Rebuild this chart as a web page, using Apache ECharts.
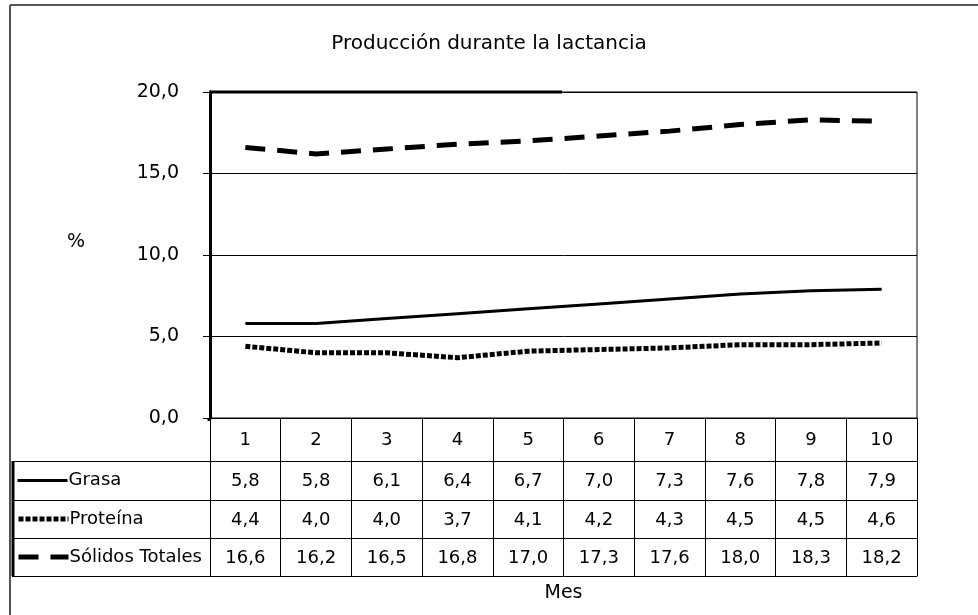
<!DOCTYPE html>
<html>
<head>
<meta charset="utf-8">
<script src="https://cdn.jsdelivr.net/npm/echarts@6/dist/echarts.min.js"></script>
<style>
  html, body { margin: 0; padding: 0; background: #fff; }
  #chart { width: 978px; height: 615px; }
</style>
</head>
<body>
<div id="chart"></div>
<script>
// datos
var meses = ["1", "2", "3", "4", "5", "6", "7", "8", "9", "10"];
var grasa = [5.8, 5.8, 6.1, 6.4, 6.7, 7.0, 7.3, 7.6, 7.8, 7.9];
var proteina = [4.4, 4.0, 4.0, 3.7, 4.1, 4.2, 4.3, 4.5, 4.5, 4.6];
var solidos = [16.6, 16.2, 16.5, 16.8, 17.0, 17.3, 17.6, 18.0, 18.3, 18.2];
var yTicks = [0, 5, 10, 15, 20];

var FONT = "DejaVu Sans, sans-serif";
var coma = function (v) { return v.toFixed(1).replace(".", ","); };

// geometria de la tabla
var gLeft = 210, gRight = 917, gTop = 92, gBottom = 418;
var rows = [418, 461, 500, 538, 576];

function tablaAxis(i, vals) {
  var h = rows[i + 1] - rows[i];
  return {
    type: "category",
    position: "bottom",
    offset: rows[i] - gBottom,
    data: meses,
    axisLine: { show: true, lineStyle: { color: "#000", width: 1 } },
    axisTick: { show: true, interval: 0, length: h, lineStyle: { color: "#000", width: 1 } },
    axisLabel: {
      interval: 0, color: "#000", fontFamily: FONT, fontSize: 18,
      margin: (h - 18) / 2 + 1,
      formatter: function (v, idx) { return vals ? coma(vals[idx]) : v; }
    }
  };
}

var myChart = echarts.init(document.getElementById("chart"));

var xAxes = [
  tablaAxis(0, null),
  tablaAxis(1, grasa),
  tablaAxis(2, proteina),
  tablaAxis(3, solidos),
  {
    type: "category",
    position: "bottom",
    offset: rows[4] - gBottom,
    data: meses,
    name: "Mes",
    nameLocation: "middle",
    nameGap: 8,
    nameTextStyle: { color: "#000", fontFamily: FONT, fontSize: 19 },
    axisLine: { show: true, lineStyle: { color: "#000", width: 1 } },
    axisTick: { show: false },
    axisLabel: { show: false }
  }
];

// marco y columna de leyenda
var graphics = [
  { type: "line", shape: { x1: 10, y1: 5, x2: 978, y2: 5 }, style: { stroke: "#555", lineWidth: 2 } },
  { type: "line", shape: { x1: 10, y1: 5, x2: 10, y2: 615 }, style: { stroke: "#555", lineWidth: 2 } },
  { type: "line", shape: { x1: 13, y1: rows[1], x2: 13, y2: rows[4] }, style: { stroke: "#000", lineWidth: 3 } },
  { type: "line", shape: { x1: gLeft - 1, y1: gTop, x2: 562, y2: gTop }, style: { stroke: "#000", lineWidth: 3 } },
  { type: "line", shape: { x1: gLeft - 1, y1: gBottom, x2: gLeft - 1, y2: gBottom + 3 }, style: { stroke: "#000", lineWidth: 3 } }
];
for (var r = 1; r < rows.length; r++) {
  graphics.push({ type: "line", shape: { x1: 12, y1: rows[r] + 0.5, x2: gLeft, y2: rows[r] + 0.5 }, style: { stroke: "#000", lineWidth: 1 } });
}

var nombres = ["Grasa", "Proteína", "Sólidos Totales"];
var anchos = [3, 5, 5];
var legends = nombres.map(function (n, i) {
  return {
    data: [n],
    left: 16,
    top: (rows[i + 1] + rows[i + 2]) / 2 - 9,
    itemWidth: 50,
    itemHeight: 20,
    itemGap: 0,
    padding: 0,
    itemStyle: { color: "transparent", borderColor: "transparent", borderWidth: 0, opacity: 0 },
    lineStyle: { width: anchos[i], color: "#000" },
    textStyle: { color: "#000", fontFamily: FONT, fontSize: 18, padding: [0, 0, 0, -4] }
  };
});

myChart.setOption({
  animation: false,
  backgroundColor: "#fff",
  title: [
    {
      text: "Producción durante la lactancia",
      left: "center",
      top: 29,
      textStyle: { color: "#000", fontFamily: FONT, fontSize: 20, fontWeight: "normal" }
    },
    {
      text: "%",
      left: 62,
      top: 228,
      textStyle: { color: "#000", fontFamily: FONT, fontSize: 19, fontWeight: "normal" }
    }
  ],
  legend: legends,
  graphic: graphics,
  grid: {
    left: gLeft, right: 978 - gRight, top: gTop, bottom: 615 - gBottom,
    show: true, borderColor: "#000", borderWidth: 1, backgroundColor: "transparent"
  },
  xAxis: xAxes,
  yAxis: {
    type: "value",
    min: yTicks[0],
    max: yTicks[yTicks.length - 1],
    interval: 5,
    axisLine: { show: true, lineStyle: { color: "#000", width: 3 } },
    axisTick: { show: true, length: 7, lineStyle: { color: "#000", width: 1 } },
    splitLine: { show: true, lineStyle: { color: "#000", width: 1 } },
    axisLabel: { color: "#000", fontFamily: FONT, fontSize: 19, margin: 31, formatter: function (v) { return coma(v); } }
  },
  series: [
    {
      name: "Grasa", type: "line", data: grasa, symbol: "none",
      lineStyle: { color: "#000", width: 3, type: "solid" },
      itemStyle: { color: "#000" }
    },
    {
      name: "Proteína", type: "line", data: proteina, symbol: "none",
      lineStyle: { color: "#000", width: 5, type: [5, 2] },
      itemStyle: { color: "#000" }
    },
    {
      name: "Sólidos Totales", type: "line", data: solidos, symbol: "none",
      lineStyle: { color: "#000", width: 5, type: [20, 12] },
      itemStyle: { color: "#000" }
    }
  ]
});
</script>
</body>
</html>
